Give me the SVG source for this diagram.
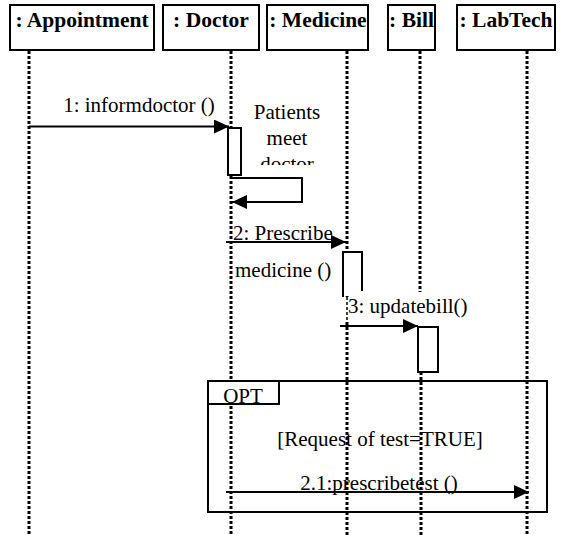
<svg xmlns="http://www.w3.org/2000/svg" width="562" height="535" viewBox="0 0 562 535">
<defs>
<marker id="ah" markerUnits="userSpaceOnUse" markerWidth="16" markerHeight="14" refX="15" refY="7" orient="auto">
<path d="M0,0 L15,7 L0,14 Z" fill="#000"/>
</marker>
<style>
.box{fill:#fff;stroke:#000;stroke-width:2}
.hd{font-family:'Liberation Serif','DejaVu Serif',serif;font-size:21.5px;font-weight:bold;fill:#000}
.t{font-family:'Liberation Serif','DejaVu Serif',serif;font-size:21px;fill:#000}
.life{stroke:#000;stroke-width:3;stroke-dasharray:3 2;fill:none}
.thin{stroke:#000;stroke-width:1.5;stroke-dasharray:3 2;fill:none}
.msg{stroke:#000;stroke-width:2;fill:none;marker-end:url(#ah)}
.act{fill:#fff;stroke:#000;stroke-width:2}
</style>
</defs>
<rect width="562" height="535" fill="#fff"/>
<g id="lifelines">
<line class="life" x1="29" y1="51" x2="29" y2="535"/>
<line class="life" x1="231" y1="51" x2="231" y2="535"/>
<line class="life" x1="347" y1="51" x2="347" y2="297"/>
<line class="thin" x1="347" y1="297" x2="347" y2="322"/>
<line class="life" x1="347" y1="322" x2="347" y2="535"/>
<line class="life" x1="420" y1="51" x2="420" y2="292"/>
<line class="life" x1="421" y1="372" x2="421" y2="535"/>
<line class="life" x1="527" y1="51" x2="527" y2="535"/>
</g>
<g id="appointment">
<rect class="box" x="10" y="5" width="144" height="45"/>
<text class="hd" x="82" y="27" text-anchor="middle">: Appointment</text>
</g>
<g id="doctor">
<rect class="box" x="163" y="5" width="96" height="45"/>
<text class="hd" x="211" y="27" text-anchor="middle">: Doctor</text>
</g>
<g id="medicine">
<rect class="box" x="267" y="5" width="101" height="45"/>
<text class="hd" x="318" y="27" text-anchor="middle">: Medicine</text>
</g>
<g id="bill">
<rect class="box" x="388" y="5" width="47" height="45"/>
<text class="hd" x="411.5" y="27" text-anchor="middle">: Bill</text>
</g>
<g id="labtech">
<rect class="box" x="457" y="5" width="98" height="45"/>
<text class="hd" x="506" y="27" text-anchor="middle">: LabTech</text>
</g>
<g id="activations">
<rect class="act" x="228" y="128" width="13" height="47"/>
<path d="M343,297 V252 H362 V291" fill="#fff" stroke="#000" stroke-width="2"/>
<rect class="act" x="418" y="327" width="20" height="45"/>
</g>
<g id="opt">
<rect x="208" y="381" width="339" height="131" fill="none" stroke="#000" stroke-width="2"/>
<rect x="208" y="381" width="71" height="23" fill="#fff" stroke="#000" stroke-width="2"/>
<text class="t" x="243" y="403" text-anchor="middle">OPT</text>
<text class="t" x="380" y="446" text-anchor="middle">[Request of test=TRUE]</text>
</g>
<g id="connectors">
<line class="msg" x1="29" y1="126.5" x2="229" y2="126.5"/>
<polyline class="msg" points="231,178 302,178 302,202 232,202"/>
<line class="msg" x1="226" y1="242" x2="346" y2="242"/>
<line class="msg" x1="340" y1="326" x2="418" y2="326"/>
<line class="msg" x1="226" y1="492" x2="529" y2="492"/>
</g>
<g id="labels">
<text class="t" x="139" y="112" text-anchor="middle">1: informdoctor ()</text>
<svg x="240" y="95" width="100" height="70" overflow="hidden">
<text class="t" text-anchor="middle" x="47" y="24">Patients</text>
<text class="t" text-anchor="middle" x="47" y="50">meet</text>
<text class="t" text-anchor="middle" x="47" y="76">doctor</text>
</svg>
<text class="t" x="233" y="240">2: Prescribe</text>
<text class="t" x="235" y="277">medicine ()</text>
<text class="t" x="348" y="313">3: updatebill()</text>
<text class="t" x="379" y="490" text-anchor="middle">2.1:prescribetest ()</text>
</g>
</svg>
